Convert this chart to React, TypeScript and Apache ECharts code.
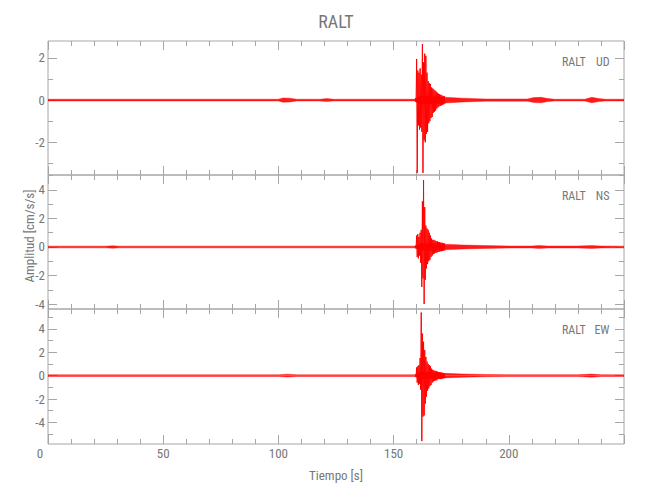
import React, { useEffect, useRef } from "react";
import * as echarts from "echarts";

// ---- axis ranges / ticks ----
const X_MIN = 0;
const X_MAX = 250;
const X_INTERVAL = 50;
const X_TICK_LABELS_HIDDEN = [250];

const UD_RANGE = [-3.55, 2.8];
const NS_RANGE = [-4.35, 5.05];
const EW_RANGE = [-5.85, 5.7];
const UD_MAJOR = [-2, 0, 2];
const UD_MINOR = [-3, -1, 1];
const NS_MAJOR = [-4, -2, 0, 2, 4];
const NS_MINOR = [-3, -1, 1, 3, 5];
const EW_MAJOR = [-4, -2, 0, 2, 4];
const EW_MINOR = [-5, -3, -1, 1, 3, 5];

// ---- event window: per-0.5 s max / min envelope (cm/s/s) ----
const EVENT_T = [
  159.5, 160, 160.5, 161, 161.5, 162, 162.5, 163, 163.5, 164, 164.5, 165, 165.5,
  166, 166.5, 167, 167.5, 168, 168.5, 169, 169.5, 170, 170.5, 171, 171.5, 172,
];
const UD_HI = [
  0.1, 1.95, 1.4, 1.3, 1.5, 1.2, 2.65, 1.8, 2.2, 2.1, 1.3, 0.9, 0.8,
  0.75, 0.6, 0.55, 0.5, 0.45, 0.4, 0.35, 0.3, 0.28, 0.25, 0.22, 0.2, 0.18,
];
const UD_LO = [
  -0.1, -3.45, -1.2, -1.4, -1.3, -1.5, -3.45, -1.9, -2.0, -1.6, -1.5, -1.1, -1.0,
  -0.85, -0.8, -0.6, -0.55, -0.5, -0.4, -0.35, -0.3, -0.28, -0.25, -0.22, -0.2, -0.18,
];
const NS_HI = [
  0.1, 0.8, 0.9, 0.7, 1.0, 1.2, 3.2, 4.7, 2.8, 1.5, 1.3, 1.2, 1.0,
  0.8, 0.6, 0.5, 0.5, 0.45, 0.4, 0.4, 0.35, 0.35, 0.3, 0.3, 0.28, 0.25,
];
const NS_LO = [
  -0.1, -0.7, -0.8, -0.6, -1.1, -2.8, -2.2, -4.0, -2.3, -1.5, -1.2, -1.0, -0.9,
  -0.7, -0.6, -0.5, -0.45, -0.4, -0.4, -0.35, -0.35, -0.3, -0.3, -0.28, -0.25, -0.25,
];
const EW_HI = [
  0.1, 0.7, 0.8, 0.9, 1.5, 5.4, 3.6, 2.9, 2.2, 1.6, 1.2, 1.0, 0.9,
  0.8, 0.6, 0.5, 0.45, 0.4, 0.4, 0.35, 0.3, 0.3, 0.28, 0.25, 0.22, 0.2,
];
const EW_LO = [
  -0.1, -0.6, -0.8, -0.7, -1.2, -5.6, -3.5, -3.4, -2.4, -1.8, -1.3, -1.1, -0.9,
  -0.8, -0.6, -0.5, -0.45, -0.4, -0.4, -0.3, -0.3, -0.3, -0.28, -0.25, -0.22, -0.2,
];

// ---- background noise envelope (half-amplitude) ----
const UD_NOISE_T = [0, 100, 102, 105, 108, 118, 121, 124, 159, 162, 172, 180, 190, 208, 211, 214, 217, 220, 233, 236, 239, 242, 250];
const UD_NOISE_A = [0.04, 0.04, 0.1, 0.09, 0.04, 0.04, 0.07, 0.04, 0.04, 0.2, 0.14, 0.09, 0.05, 0.05, 0.12, 0.13, 0.07, 0.04, 0.04, 0.13, 0.07, 0.04, 0.04];
const NS_NOISE_T = [0, 25, 28, 31, 159, 162, 172, 180, 190, 200, 210, 213, 217, 230, 236, 240, 250];
const NS_NOISE_A = [0.06, 0.06, 0.09, 0.06, 0.06, 0.25, 0.2, 0.14, 0.1, 0.07, 0.07, 0.1, 0.07, 0.07, 0.1, 0.07, 0.06];
const EW_NOISE_T = [0, 100, 104, 108, 159, 162, 172, 180, 190, 200, 230, 236, 240, 250];
const EW_NOISE_A = [0.07, 0.07, 0.12, 0.07, 0.07, 0.3, 0.2, 0.14, 0.1, 0.08, 0.08, 0.13, 0.08, 0.07];

const STATION = "RALT";
const COMPONENTS = ["UD", "NS", "EW"];
const Y_NAME = "Amplitud [cm/s/s]";
const X_NAME = "Tiempo [s]";

const PANELS = [
  { comp: COMPONENTS[0], hi: UD_HI, lo: UD_LO, nt: UD_NOISE_T, na: UD_NOISE_A, range: UD_RANGE, major: UD_MAJOR, minor: UD_MINOR },
  { comp: COMPONENTS[1], hi: NS_HI, lo: NS_LO, nt: NS_NOISE_T, na: NS_NOISE_A, range: NS_RANGE, major: NS_MAJOR, minor: NS_MINOR },
  { comp: COMPONENTS[2], hi: EW_HI, lo: EW_LO, nt: EW_NOISE_T, na: EW_NOISE_A, range: EW_RANGE, major: EW_MAJOR, minor: EW_MINOR },
];

const RED = "#ff0000";
const FRAME = "#a6a6a6";
const TEXT = "#777777";
const FONT = "'Liberation Sans Narrow', 'Roboto Condensed', 'Open Sans Condensed', 'DejaVu Sans Condensed', sans-serif";

const GRID_LEFT = 48;
const GRID_RIGHT = 26;
const GRID_TOPS = [41, 175, 309];
const GRID_HEIGHTS = [134, 134, 135];

export default function App() {
  const ref = useRef<HTMLDivElement>(null);

  useEffect(() => {
    if (!ref.current) return;
    const chart = echarts.init(ref.current, null, { renderer: "svg" });

    const grids = PANELS.map((_, i) => ({
      left: GRID_LEFT,
      right: GRID_RIGHT,
      top: GRID_TOPS[i],
      height: GRID_HEIGHTS[i],
      show: true,
      borderColor: FRAME,
      borderWidth: 1,
      backgroundColor: "transparent",
    }));

    const xAxes: any[] = [];
    PANELS.forEach((_, i) => {
      ["bottom", "top"].forEach((pos) => {
        const showLabel = pos === "bottom" && i === PANELS.length - 1;
        xAxes.push({
          type: "value",
          gridIndex: i,
          position: pos,
          min: X_MIN,
          max: X_MAX,
          interval: X_INTERVAL,
          axisLine: { show: false, onZero: false },
          splitLine: { show: false },
          axisTick: { show: true, inside: true, length: 9, lineStyle: { color: FRAME, width: 1 } },
          minorTick: { show: true, splitNumber: 5, length: 5, lineStyle: { color: FRAME, width: 1 } },
          axisLabel: {
            show: showLabel,
            margin: 3,
            color: TEXT,
            fontSize: 13,
            fontFamily: FONT,
            formatter: (v: number) =>
              X_TICK_LABELS_HIDDEN.includes(v) ? "" : v === 0 ? "{z|0}" : String(v),
            rich: { z: { padding: [0, 16, 0, 0], color: TEXT, fontSize: 13, fontFamily: FONT } },
          },
          name: showLabel ? X_NAME : "",
          nameLocation: "middle",
          nameGap: 25,
          nameTextStyle: { color: TEXT, fontSize: 13, fontFamily: FONT },
        });
      });
    });

    const yAxes: any[] = [];
    PANELS.forEach((p, i) => {
      ["left", "right"].forEach((pos) => {
        [true, false].forEach((isMajor) => {
          const vals = isMajor ? p.major : p.minor;
          yAxes.push({
            type: "value",
            gridIndex: i,
            position: pos,
            min: p.range[0],
            max: p.range[1],
            axisLine: { show: false, onZero: false },
            splitLine: { show: false },
            axisTick: {
              show: true,
              inside: true,
              length: isMajor ? 9 : 5,
              customValues: vals,
              lineStyle: { color: FRAME, width: 1 },
            },
            axisLabel: {
              show: isMajor && pos === "left",
              customValues: vals,
              margin: 3,
              color: TEXT,
              fontSize: 13,
              fontFamily: FONT,
            },
          });
        });
      });
    });

    const series: any[] = [];
    PANELS.forEach((p, i) => {
      const common = {
        type: "line",
        xAxisIndex: i * 2,
        yAxisIndex: i * 4,
        showSymbol: false,
        symbol: "none",
        silent: true,
        animation: false,
      };
      series.push({
        ...common,
        name: p.comp + " noise +",
        data: p.nt.map((t, k) => [t, p.na[k]]),
        lineStyle: { color: RED, width: 0.5, opacity: 0.8 },
        areaStyle: { color: RED, opacity: 0.9, origin: 0 },
      });
      series.push({
        ...common,
        name: p.comp + " noise -",
        data: p.nt.map((t, k) => [t, -p.na[k]]),
        lineStyle: { color: RED, width: 0.5, opacity: 0.8 },
        areaStyle: { color: RED, opacity: 0.9, origin: 0 },
      });
      const zig: number[][] = [];
      EVENT_T.forEach((t, k) => {
        zig.push([t, p.hi[k]]);
        zig.push([t + 0.25, p.lo[k]]);
      });
      series.push({
        ...common,
        name: p.comp,
        data: zig,
        lineStyle: { color: RED, width: 1, opacity: 1 },
      });
    });

    const graphic: any[] = [
      {
        type: "text",
        x: 336,
        y: 21,
        style: { text: STATION, align: "center", verticalAlign: "middle", fontSize: 18, fill: TEXT, fontFamily: FONT },
      },
      {
        type: "text",
        x: 29,
        y: 236,
        rotation: Math.PI / 2,
        style: { text: Y_NAME, align: "center", verticalAlign: "middle", fontSize: 13, fill: TEXT, fontFamily: FONT },
      },
    ];
    PANELS.forEach((p, i) => {
      const y = GRID_TOPS[i] + 21;
      graphic.push({
        type: "text",
        x: 562,
        y,
        style: { text: STATION, align: "left", verticalAlign: "middle", fontSize: 12, fill: TEXT, fontFamily: FONT },
      });
      graphic.push({
        type: "text",
        x: 609.5,
        y,
        style: { text: p.comp, align: "right", verticalAlign: "middle", fontSize: 12, fill: TEXT, fontFamily: FONT },
      });
    });

    chart.setOption({
      animation: false,
      backgroundColor: "#ffffff",
      grid: grids,
      xAxis: xAxes,
      yAxis: yAxes,
      series,
      graphic,
    });

    return () => chart.dispose();
  }, []);

  return (
    <div
      ref={ref}
      style={{ position: "fixed", left: 0, top: 0, width: 650, height: 500, background: "#fff" }}
    />
  );
}
